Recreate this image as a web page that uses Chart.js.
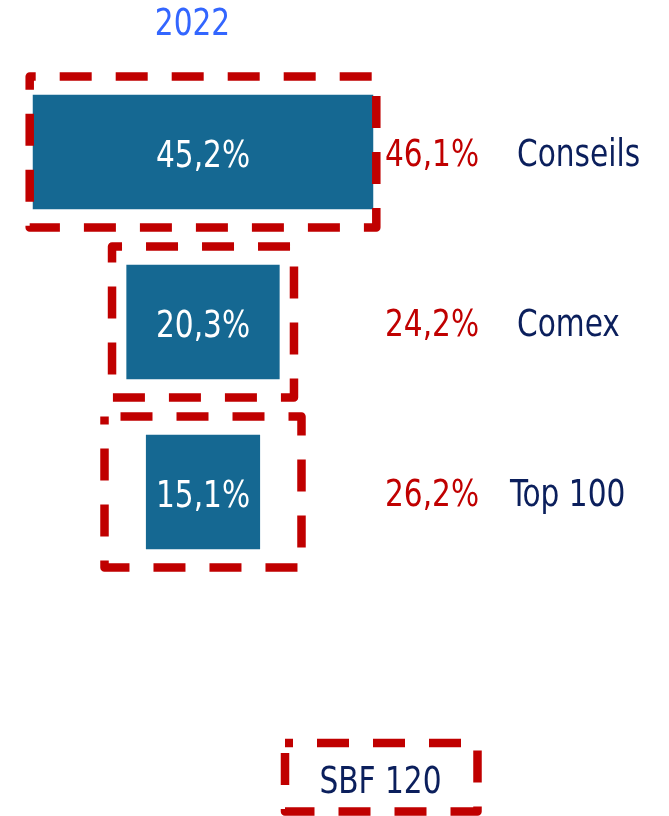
<!DOCTYPE html>
<html>
<head>
<meta charset="utf-8">
<script src="https://cdn.jsdelivr.net/npm/chart.js@4.4.1/dist/chart.umd.min.js"></script>
<style>
  html, body { margin: 0; padding: 0; background: #fff; }
  #wrap { width: 669px; height: 816px; position: relative; }
</style>
</head>
<body>
<div id="wrap"><canvas id="c"></canvas></div>
<script>
// data
const categories = ['Conseils', 'Comex', 'Top 100'];
const values2022 = [45.2, 20.3, 15.1];
const valuesSBF  = [46.1, 24.2, 26.2];
const yearLabel  = '2022';
const refLabel   = 'SBF 120';

const BAR_BLUE   = '#156892';
const RED        = '#c00000';
const NAVY       = '#0b1f5c';
const TITLE_BLUE = '#3366ff';
const FONT = '"DejaVu Sans Condensed", "DejaVu Sans", sans-serif';
const DASH_PHASE = [26, 22, 40];   // where the dash pattern starts on each box

const fmt = v => v.toFixed(1).replace('.', ',') + '%';
// bars are centred on zero, so each one runs from -v/2 to +v/2
const centred = arr => arr.map(v => [-v / 2, v / 2]);

function dashedRect(ctx, l, t, r, b, phase) {
  ctx.save();
  ctx.strokeStyle = RED;
  ctx.lineWidth = 8.5;
  ctx.setLineDash([32, 24]);
  ctx.lineDashOffset = phase;
  ctx.lineJoin = 'round';
  ctx.beginPath();
  ctx.moveTo(l, t);
  ctx.lineTo(r, t);
  ctx.lineTo(r, b);
  ctx.lineTo(l, b);
  ctx.closePath();
  ctx.stroke();
  ctx.restore();
}

// the source font is narrow, so squeeze the condensed face a little more
function label(ctx, str, x, y, align, color) {
  ctx.save();
  ctx.translate(x, y);
  ctx.scale(0.89, 1);
  ctx.font = '37px ' + FONT;
  ctx.textAlign = align;
  ctx.textBaseline = 'alphabetic';
  ctx.fillStyle = color;
  ctx.fillText(str, 0, 0);
  ctx.restore();
}

const overlay = {
  id: 'overlay',
  afterDatasetsDraw(chart) {
    const ctx = chart.ctx;
    const area = chart.chartArea;

    // SBF 120 : dashed outlines, taken from the bar elements
    chart.getDatasetMeta(1).data.forEach((el, i) => {
      const p = el.getProps(['x', 'y', 'base', 'height'], true);
      dashedRect(ctx, Math.min(p.x, p.base), p.y - p.height / 2,
                 Math.max(p.x, p.base), p.y + p.height / 2, DASH_PHASE[i]);
    });

    chart.getDatasetMeta(0).data.forEach((el, i) => {
      const p = el.getProps(['x', 'y', 'base'], true);
      label(ctx, fmt(values2022[i]), (p.x + p.base) / 2, p.y + 15, 'center', '#ffffff');
      label(ctx, fmt(valuesSBF[i]), area.right - 21, p.y + 14, 'left', RED);
      label(ctx, categories[i], area.right + (i === 2 ? 104 : 111), p.y + 14, 'left', NAVY);
    });

    // series title
    label(ctx, yearLabel, 192.5, 35, 'center', TITLE_BLUE);

    // legend box for the reference series
    dashedRect(ctx, 285, 743, 477.5, 811.5, 24);
    label(ctx, refLabel, 380.5, 793, 'center', NAVY);
  }
};

new Chart(document.getElementById('c'), {
  type: 'bar',
  data: {
    labels: categories,
    datasets: [
      {
        label: yearLabel,
        data: centred(values2022),
        backgroundColor: BAR_BLUE,
        borderWidth: 0,
        barThickness: 114,
        grouped: false
      },
      {
        label: refLabel,
        data: centred(valuesSBF),
        backgroundColor: 'rgba(0,0,0,0)',
        borderWidth: 0,
        barThickness: 151,
        grouped: false
      }
    ]
  },
  options: {
    indexAxis: 'y',
    responsive: true,
    maintainAspectRatio: false,
    animation: false,
    layout: { padding: { left: 0, right: 263, top: 67, bottom: 239 } },
    plugins: {
      legend: { display: false },
      title: { display: false },
      tooltip: { enabled: false }
    },
    scales: {
      x: { display: false, min: -27, max: 27 },
      y: { display: false }
    }
  },
  plugins: [overlay]
});
</script>
</body>
</html>
